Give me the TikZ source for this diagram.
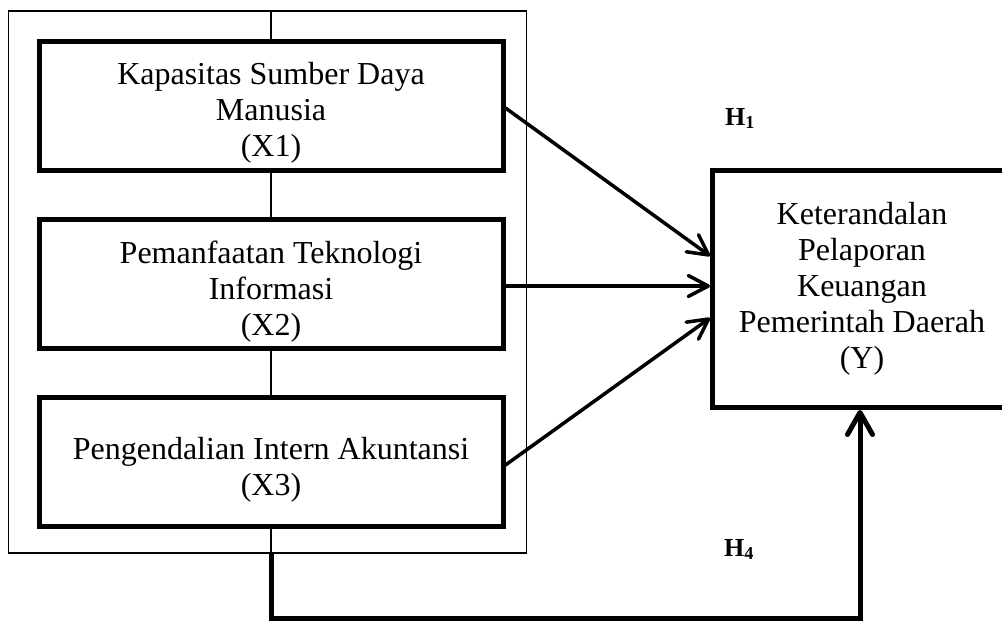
\documentclass[tikz,border=0pt]{standalone}
\usepackage{fontspec}
\setmainfont{Liberation Serif}
\usetikzlibrary{arrows.meta}
\newcommand{\lowerstrut}{\rule{0pt}{37pt}}
\begin{document}
\begin{tikzpicture}[x=1pt,y=-1pt,
  varbox/.style={draw,line width=5pt,fill=white,inner sep=0pt,minimum width=464pt,minimum height=129pt,align=center,font=\fontsize{32}{36}\selectfont},
  conn/.style={line width=3.5pt,-{Straight Barb[length=20pt,width=21pt,round]}},
  hlabel/.style={anchor=base west,inner sep=0pt,font=\fontsize{26}{30}\selectfont\bfseries}
]
\clip (0,0) rectangle (1002,621);
\node[draw,line width=1.2pt,inner sep=0pt,minimum width=518pt,minimum height=542pt] (outer) at (267.7,282) {};
\coordinate (ctop) at (271,11);
\coordinate (cbot) at (271,553);
\draw[line width=1.2pt] (ctop) -- (cbot);
\node[varbox] (X1) at (271,105.5) {\lowerstrut Kapasitas Sumber Daya\\Manusia\\(X1)};
\node[varbox] (X2) at (271,284) {\lowerstrut Pemanfaatan Teknologi\\Informasi\\(X2)};
\node[varbox] (X3) at (271,462) {\lowerstrut Pengendalian Intern Akuntansi\\(X3)};
\node[draw,line width=5pt,inner sep=0pt,minimum width=299pt,minimum height=237pt,align=center,font=\fontsize{32}{36}\selectfont] (Y) at (862,289) {Keterandalan\\Pelaporan\\Keuangan\\Pemerintah Daerah\\(Y)};
\draw[conn] ([yshift=-2.5pt]X1.east) -- ([yshift=33pt]Y.west);
\draw[conn] ([yshift=-2pt]X2.east) -- ([yshift=3pt]Y.west);
\draw[conn] ([yshift=-3pt]X3.east) -- ([yshift=-29pt]Y.west);
\coordinate (bl) at (271,618.5);
\draw[line width=5pt,-{Straight Barb[length=22pt,width=25pt,round]}] (cbot) -- (bl) -| ([xshift=-2pt]Y.south);
\node[hlabel] (H1) at (725,125) {H\textsubscript{1}};
\node[hlabel] (H4) at (724,556) {H\textsubscript{4}};
\end{tikzpicture}
\end{document}
